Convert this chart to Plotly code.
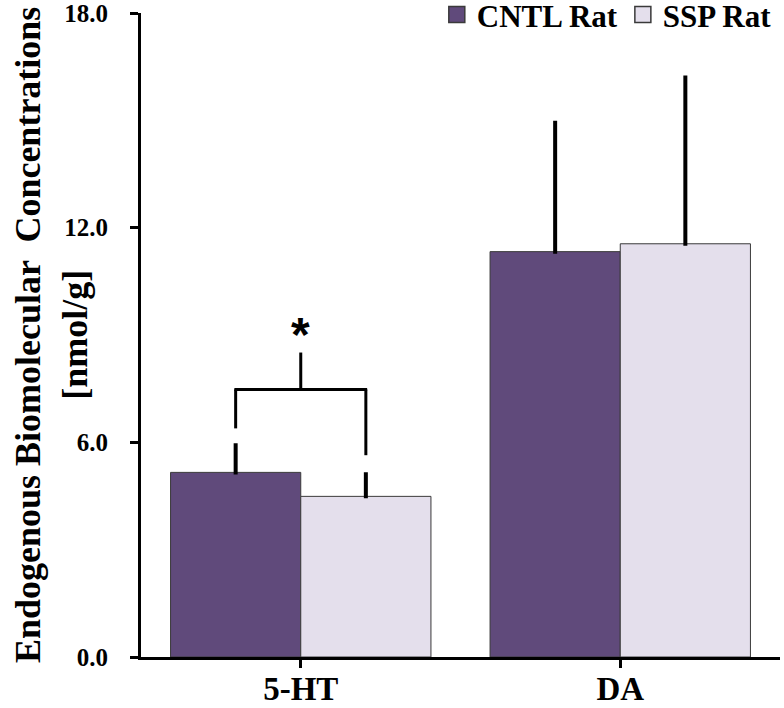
import plotly.graph_objects as go

categories = ["5-HT", "DA"]
series_names = ["CNTL Rat", "SSP Rat"]
cntl_values = [5.16, 11.33]
ssp_values = [4.49, 11.55]
cntl_err = [0.76, 3.60]
ssp_err = [0.62, 4.65]
y_ticks = [0, 6, 12, 18]
y_tick_labels = ["0.0", "6.0", "12.0", "18.0"]

# significance bracket (5-HT) in data units
bracket_y = 7.48
bracket_left_bottom = 6.39
bracket_right_bottom = 5.64
bracket_stem_top = 8.51
star_y = 9.13

FONT = "Liberation Serif"
colors = ["#604a7b", "#e4dfec"]
edge = "#3a3a3a"
bargap = 0.185

fig = go.Figure()
for name, vals, errs, col in zip(series_names, [cntl_values, ssp_values], [cntl_err, ssp_err], colors):
    fig.add_trace(go.Bar(
        x=categories, y=vals, name=name, showlegend=False,
        marker=dict(color=col, line=dict(color=edge, width=1)),
        error_y=dict(type="data", symmetric=False, array=errs, arrayminus=[0] * len(errs),
                     color="black", thickness=4, width=2),
    ))
# legend entries (square swatches)
for name, col in zip(series_names, colors):
    fig.add_trace(go.Scatter(
        x=[None], y=[None], mode="markers", name=name,
        marker=dict(symbol="square", size=16, color=col, line=dict(color=edge, width=1.5)),
    ))

off = (1 - bargap) / 4
xl, xr = 0 - off, 0 + off
line = dict(color="black", width=3)
fig.add_shape(type="line", x0=xl, x1=xl, y0=bracket_left_bottom, y1=bracket_y, xref="x", yref="y", line=line)
fig.add_shape(type="line", x0=xr, x1=xr, y0=bracket_right_bottom, y1=bracket_y, xref="x", yref="y", line=line)
fig.add_shape(type="line", x0=xl - 0.004, x1=xr + 0.004, y0=bracket_y, y1=bracket_y, xref="x", yref="y", line=line)
fig.add_shape(type="line", x0=0, x1=0, y0=bracket_y, y1=bracket_stem_top, xref="x", yref="y", line=line)
fig.add_annotation(x=0, y=star_y, xref="x", yref="y", text="<b>*</b>", showarrow=False,
                   font=dict(family="Liberation Sans", size=48, color="black"), yanchor="middle", yshift=-4)

# y-axis title as a rotated annotation
fig.add_annotation(x=(51 - 141) / 639, y=0.5, xref="paper", yref="paper", xanchor="center", yanchor="middle",
                   text="<b>Endogenous Biomolecular  Concentrations<br>[nmol/g]</b>", textangle=-90,
                   showarrow=False, font=dict(family=FONT, size=36, color="black"))

fig.update_layout(
    width=784, height=708,
    margin=dict(l=141, r=4, t=13, b=51, autoexpand=False),
    plot_bgcolor="white", paper_bgcolor="white",
    barmode="group", bargap=bargap, bargroupgap=0,
    font=dict(family=FONT, color="black"),
    showlegend=True,
    legend=dict(orientation="h", x=0.995, xanchor="right", xref="paper",
                y=0.997, yanchor="middle", yref="paper",
                font=dict(family=FONT, size=31, color="black", weight="bold"),
                bgcolor="rgba(0,0,0,0)", itemwidth=30, tracegroupgap=0),
    xaxis=dict(range=[-0.5, 1.5], showline=True, linecolor="black", linewidth=3,
               ticks="outside", ticklen=8, tickwidth=3, tickcolor="black",
               ticklabelstandoff=-8, ticklabeloverflow="allow",
               tickfont=dict(family=FONT, size=33, color="black", weight="bold"),
               showgrid=False, zeroline=False, automargin=False),
    yaxis=dict(range=[0, 18], tickvals=y_ticks, ticktext=y_tick_labels,
               showline=True, linecolor="black", linewidth=3,
               ticks="outside", ticklen=8, tickwidth=3, tickcolor="black",
               ticklabelstandoff=17, ticklabeloverflow="allow",
               tickfont=dict(family=FONT, size=25, color="black", weight="bold"),
               showgrid=False, zeroline=False, automargin=False),
)

fig.write_html("out.html", config={"displayModeBar": False},
               post_script="document.body.style.margin='0';")
